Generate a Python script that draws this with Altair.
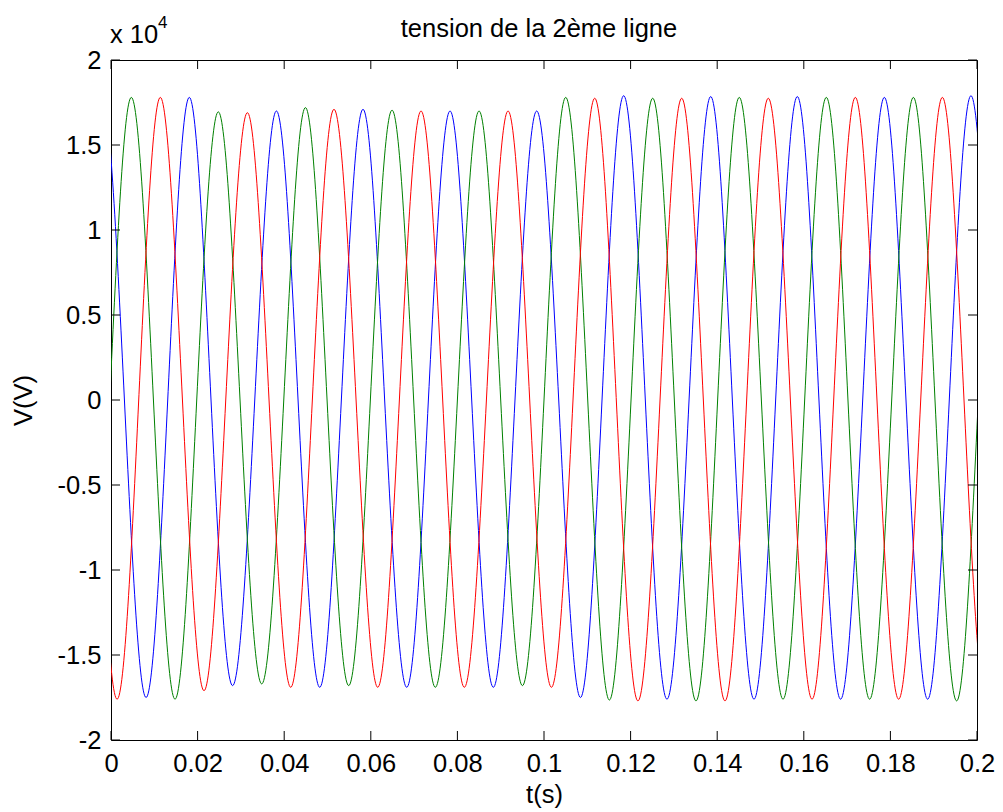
import altair as alt
import pandas as pd

FONT = "Liberation Sans"
FS = 25.5

TITLE = "tension de la 2ème ligne"
EXP_BASE = "x 10"
EXP_POWER = "4"

# Axis ticks
X_TICKS = [0, 0.02, 0.04, 0.06, 0.08, 0.1, 0.12, 0.14, 0.16, 0.18, 0.2]
Y_TICKS = [-20000, -15000, -10000, -5000, 0, 5000, 10000, 15000, 20000]

SERIES = ["Va", "Vb", "Vc"]
COLORS = ["#0000FF", "#008000", "#FF0000"]

# Phase Va (blue): extrema and zero crossings
# (points before 0 s and after 0.2 s continue the wave and are clipped)
VA_T = [-0.0070, -0.0020, 0.0031, 0.0081, 0.0131, 0.0181, 0.0231, 0.0281, 0.0332, 0.0382,
        0.0432, 0.0482, 0.0532, 0.0582, 0.0632, 0.0683, 0.0733, 0.0783, 0.0833, 0.0883,
        0.0933, 0.0983, 0.1034, 0.1084, 0.1134, 0.1184, 0.1234, 0.1284, 0.1335, 0.1385,
        0.1435, 0.1485, 0.1535, 0.1585, 0.1635, 0.1685, 0.1736, 0.1786, 0.1836, 0.1886,
        0.1936, 0.1986, 0.2036]
VA_V = [0, 17800, 0, -17500, 0, 17800, 0, -16800, 0, 17000,
        0, -16900, 0, 17100, 0, -16900, 0, 17000, 0, -16900,
        0, 17000, 0, -17500, 0, 17900, 0, -17600, 0, 17850,
        0, -17600, 0, 17850, 0, -17600, 0, 17800, 0, -17600,
        0, 17900, 0]

# Phase Vb (green)
VB_T = [-0.0003, 0.0047, 0.0098, 0.0148, 0.0198, 0.0248, 0.0298, 0.0348, 0.0399, 0.0449,
        0.0499, 0.0549, 0.0599, 0.0649, 0.0699, 0.0749, 0.0800, 0.0850, 0.0900, 0.0950,
        0.1000, 0.1050, 0.1101, 0.1151, 0.1201, 0.1251, 0.1301, 0.1351, 0.1401, 0.1451,
        0.1502, 0.1552, 0.1602, 0.1652, 0.1702, 0.1752, 0.1803, 0.1853, 0.1903, 0.1953,
        0.2003]
VB_V = [0, 17800, 0, -17600, 0, 16950, 0, -16700, 0, 17200,
        0, -16800, 0, 17050, 0, -16900, 0, 17000, 0, -16800,
        0, 17800, 0, -17650, 0, 17750, 0, -17700, 0, 17800,
        0, -17600, 0, 17800, 0, -17600, 0, 17800, 0, -17700,
        0]

# Phase Vc (red)
VC_T = [-0.0036, 0.0014, 0.0064, 0.0114, 0.0165, 0.0215, 0.0265, 0.0315, 0.0365, 0.0415,
        0.0465, 0.0515, 0.0566, 0.0616, 0.0666, 0.0716, 0.0766, 0.0816, 0.0867, 0.0917,
        0.0967, 0.1017, 0.1067, 0.1117, 0.1167, 0.1217, 0.1268, 0.1318, 0.1368, 0.1418,
        0.1468, 0.1518, 0.1569, 0.1619, 0.1669, 0.1719, 0.1769, 0.1819, 0.1870, 0.1920,
        0.1970, 0.2020, 0.2070]
VC_V = [0, -17600, 0, 17800, 0, -17100, 0, 16900, 0, -16900,
        0, 17100, 0, -16900, 0, 17000, 0, -16900, 0, 17000,
        0, -16900, 0, 17750, 0, -17700, 0, 17750, 0, -17700,
        0, 17750, 0, -17600, 0, 17800, 0, -17600, 0, 17800,
        0, -17600, 0]

rows = []
for name, ts, vs in [("Va", VA_T, VA_V), ("Vb", VB_T, VB_V), ("Vc", VC_T, VC_V)]:
    for t, v in zip(ts, vs):
        rows.append({"phase": name, "t": t, "v": v})
df = pd.DataFrame(rows)

W, H = 866, 680
TICK = 9

xscale = alt.Scale(domain=[0, 0.2], nice=False, zero=False)
yscale = alt.Scale(domain=[-20000, 20000], nice=False, zero=False)

axis_common = dict(
    grid=False, ticks=False, tickSize=0, domain=False,
    labelFont=FONT, labelFontSize=FS, labelColor="black",
    titleFont=FONT, titleFontSize=FS, titleFontWeight="normal", titleColor="black",
    labelOverlap=False,
)

lines = alt.Chart(df).mark_line(interpolate="natural", strokeWidth=1, clip=True).encode(
    x=alt.X("t:Q", scale=xscale,
            axis=alt.Axis(values=X_TICKS, format=".2~f", title="t(s)", labelFlush=False,
                          labelPadding=11, titlePadding=6, **axis_common)),
    y=alt.Y("v:Q", scale=yscale,
            axis=alt.Axis(values=Y_TICKS, labelExpr="'' + datum.value / 10000", title="V(V)",
                          labelPadding=10, titlePadding=21, **axis_common)),
    color=alt.Color("phase:N", scale=alt.Scale(domain=SERIES, range=COLORS), legend=None),
)

xt = pd.DataFrame({"t": X_TICKS})
yt = pd.DataFrame({"v": Y_TICKS})

bottom_ticks = alt.Chart(xt).mark_rule(color="black", strokeWidth=1).encode(
    x=alt.X("t:Q", scale=xscale), y=alt.value(H), y2=alt.value(H - TICK))
top_ticks = alt.Chart(xt).mark_rule(color="black", strokeWidth=1).encode(
    x=alt.X("t:Q", scale=xscale), y=alt.value(0), y2=alt.value(TICK))
left_ticks = alt.Chart(yt).mark_rule(color="black", strokeWidth=1).encode(
    y=alt.Y("v:Q", scale=yscale), x=alt.value(0), x2=alt.value(TICK))
right_ticks = alt.Chart(yt).mark_rule(color="black", strokeWidth=1).encode(
    y=alt.Y("v:Q", scale=yscale), x=alt.value(W), x2=alt.value(W - TICK))

title_mark = alt.Chart(pd.DataFrame({"txt": [TITLE]})).mark_text(
    align="center", baseline="alphabetic", font=FONT, fontSize=FS, color="black"
).encode(x=alt.value(428), y=alt.value(-23), text="txt:N")
exp_base = alt.Chart(pd.DataFrame({"txt": [EXP_BASE]})).mark_text(
    align="left", baseline="alphabetic", font=FONT, fontSize=FS, color="black"
).encode(x=alt.value(-1), y=alt.value(-17), text="txt:N")
exp_sup = alt.Chart(pd.DataFrame({"txt": [EXP_POWER]})).mark_text(
    align="left", baseline="alphabetic", font=FONT, fontSize=17, color="black"
).encode(x=alt.value(47), y=alt.value(-32), text="txt:N")

chart = alt.layer(
    lines, bottom_ticks, top_ticks, left_ticks, right_ticks, title_mark, exp_base, exp_sup
).properties(
    width=W, height=H,
    autosize=alt.AutoSizeParams(type="none"),
    padding={"left": 103, "top": 52, "right": 18, "bottom": 70},
).configure(
    background="white",
    view=alt.ViewConfig(stroke="black", strokeWidth=1),
)

chart.save("out.html", embed_options={"renderer": "svg", "actions": False})
